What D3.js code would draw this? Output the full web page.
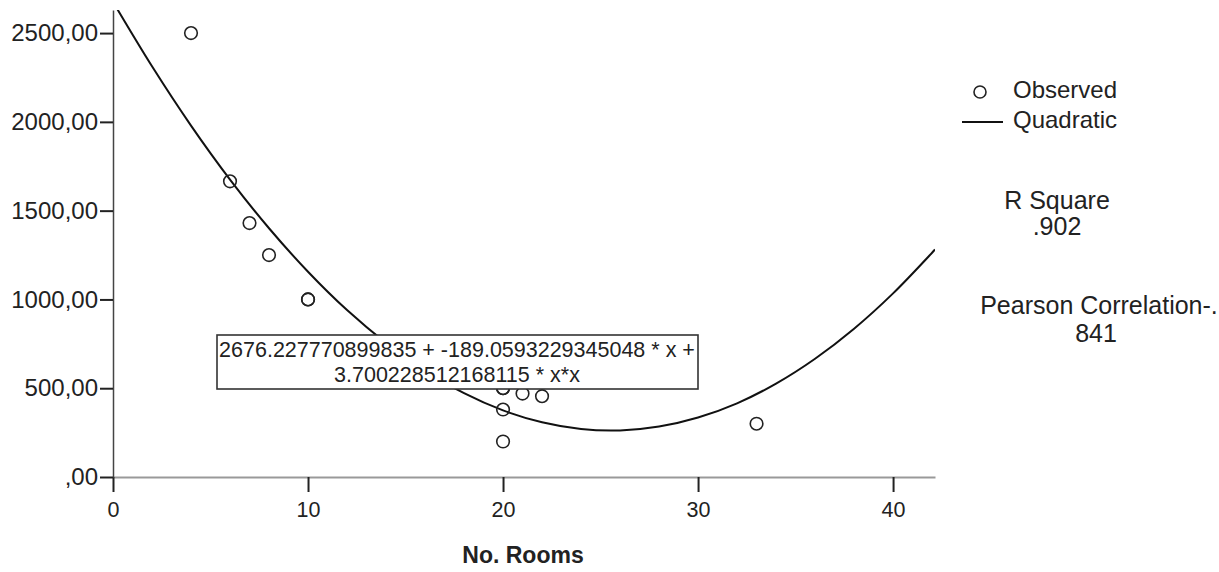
<!DOCTYPE html>
<html>
<head>
<meta charset="utf-8">
<script src="https://cdn.jsdelivr.net/npm/d3@7"></script>
<style>
  body { margin: 0; background: #fff; }
  text { font-family: "Liberation Sans", Arial, sans-serif; fill: #222; }
</style>
</head>
<body>
<div id="chart"></div>
<script>
// observed points (No. Rooms, value)
const rooms    = [4, 6, 7, 8, 10, 10, 20, 20, 21, 22, 20, 20, 33];
const observed = [2500, 1665, 1430, 1250, 1000, 1000, 500, 500, 470, 455, 380, 200, 300];

// quadratic fit line
const fitX = [0, 2, 4, 6, 8, 10, 12, 14, 16, 18, 20, 22, 24, 26, 28, 30, 32, 34, 36, 38, 40, 42, 42.15];
const fitY = [2676, 2313, 1979, 1675, 1401, 1156, 940, 755, 599, 472, 375, 308, 270, 262, 284, 335, 415, 526, 666, 835, 1034, 1263, 1281];

const xTicks = [0, 10, 20, 30, 40];
const yTicks = [0, 500, 1000, 1500, 2000, 2500];

const equation = ["2676.227770899835 + -189.0593229345048 * x +", "3.700228512168115 * x*x"];
const legendItems = ["Observed", "Quadratic"];
const stats = [["R Square", ".902"], ["Pearson Correlation-.", "841"]];

function draw() {
  const width = 1219, height = 572;
  const margin = { top: 10, right: 284, bottom: 95, left: 113 };
  const plot_width  = width  - margin.left - margin.right;
  const plot_height = height - margin.top  - margin.bottom;

  const svg = d3.select("#chart").append("svg")
    .attr("width", width).attr("height", height);

  const plot = svg.append("g")
    .attr("transform", `translate(${margin.left},${margin.top})`);

  const x = d3.scaleLinear().domain([0, 42.15]).range([0, plot_width]);
  const y = d3.scaleLinear().domain([0, 2630]).range([plot_height, 0]);

  svg.append("defs").append("clipPath").attr("id", "clip")
    .append("rect").attr("width", plot_width).attr("height", plot_height);

  // AXES
  const fmt = d => d === 0 ? ",00" : d3.format(".2f")(d).replace(".", ",");

  const xAxis = plot.append("g")
    .attr("transform", `translate(0,${plot_height})`)
    .call(d3.axisBottom(x).tickValues(xTicks).tickSize(15).tickSizeOuter(0).tickPadding(10).tickFormat(d3.format("d")));
  xAxis.select(".domain").attr("stroke", "#999").attr("stroke-width", 2);
  xAxis.selectAll(".tick line").attr("stroke", "#222").attr("stroke-width", 2);
  xAxis.selectAll("text").style("font-size", "21.5px").attr("fill", "#222");

  const yAxis = plot.append("g")
    .call(d3.axisLeft(y).tickValues(yTicks).tickSize(13).tickSizeOuter(0).tickPadding(2).tickFormat(fmt));
  yAxis.select(".domain").attr("stroke", "#444").attr("stroke-width", 1.5);
  yAxis.selectAll(".tick line").attr("stroke", "#222").attr("stroke-width", 2);
  yAxis.selectAll("text").style("font-size", "24px").attr("fill", "#222");

  // FIT LINE
  const fit = fitX.map((d, i) => [d, fitY[i]]);
  plot.append("path")
    .datum(fit)
    .attr("clip-path", "url(#clip)")
    .attr("fill", "none").attr("stroke", "#111").attr("stroke-width", 2)
    .attr("d", d3.line().x(d => x(d[0])).y(d => y(d[1])).curve(d3.curveCatmullRom));

  // OBSERVED
  plot.selectAll(".dot")
    .data(rooms.map((d, i) => [d, observed[i]]))
    .join("circle").attr("class", "dot")
    .attr("cx", d => x(d[0])).attr("cy", d => y(d[1]))
    .attr("r", 6.3)
    .attr("fill", "none").attr("stroke", "#222").attr("stroke-width", 1.6);

  // EQUATION BOX
  const eq = plot.append("g");
  eq.append("rect")
    .attr("x", 104).attr("y", 325).attr("width", 481).attr("height", 54)
    .attr("fill", "#fff").attr("stroke", "#333").attr("stroke-width", 1.6);
  eq.selectAll("text").data(equation).join("text")
    .attr("x", 344).attr("y", (d, i) => 341 + i * 25)
    .attr("text-anchor", "middle").attr("dominant-baseline", "middle")
    .style("font-size", "21.5px").text(d => d);

  // AXIS TITLE
  svg.append("text")
    .attr("x", 523).attr("y", 557)
    .attr("text-anchor", "middle").attr("dominant-baseline", "middle")
    .style("font-size", "23px").style("font-weight", "bold")
    .text("No. Rooms");

  // LEGEND
  const legend = svg.append("g");
  legend.append("circle").attr("cx", 980).attr("cy", 92).attr("r", 6)
    .attr("fill", "none").attr("stroke", "#222").attr("stroke-width", 1.6);
  legend.append("line").attr("x1", 962).attr("x2", 1003).attr("y1", 122).attr("y2", 122)
    .attr("stroke", "#111").attr("stroke-width", 2);
  legend.selectAll(".lg").data(legendItems).join("text").attr("class", "lg")
    .attr("x", 1013).attr("y", (d, i) => 92 + i * 30)
    .attr("dominant-baseline", "middle")
    .style("font-size", "24px").text(d => d);

  // STATS
  const statX = [1057, 1099];
  const statY = [202, 307];
  stats.forEach((s, i) => {
    svg.append("text").attr("x", statX[i]).attr("y", statY[i])
      .attr("text-anchor", "middle").attr("dominant-baseline", "middle")
      .style("font-size", "25px").text(s[0]);
    svg.append("text").attr("x", i ? 1096 : 1057).attr("y", statY[i] + (i ? 28 : 26))
      .attr("text-anchor", "middle").attr("dominant-baseline", "middle")
      .style("font-size", "25px").text(s[1]);
  });
}
draw();
</script>
</body>
</html>
